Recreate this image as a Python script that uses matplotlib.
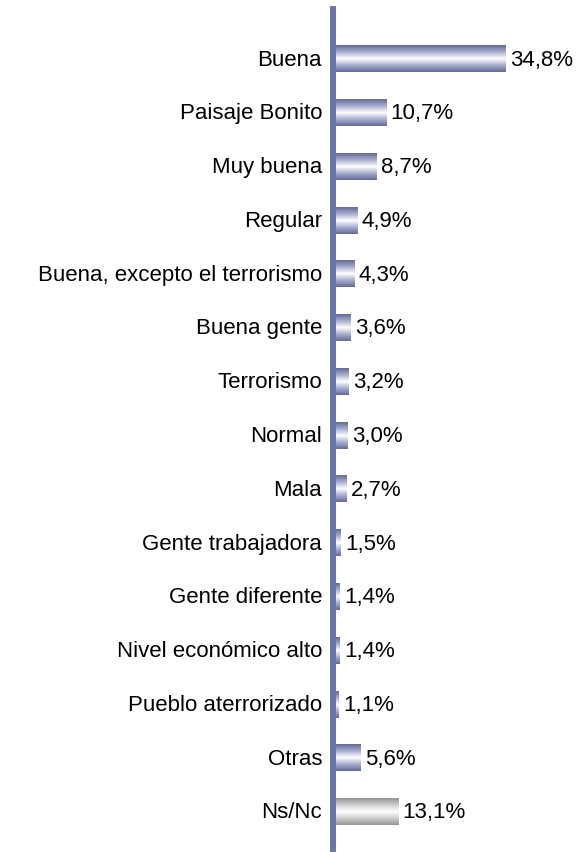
import numpy as np
import matplotlib.pyplot as plt
from matplotlib.colors import LinearSegmentedColormap

# -------------- DATA ---------------------------------------
categories = ["Buena", "Paisaje Bonito", "Muy buena", "Regular",
              "Buena, excepto el terrorismo", "Buena gente", "Terrorismo",
              "Normal", "Mala", "Gente trabajadora", "Gente diferente",
              "Nivel económico alto", "Pueblo aterrorizado", "Otras", "Ns/Nc"]
values = [34.8, 10.7, 8.7, 4.9, 4.3, 3.6, 3.2, 3.0, 2.7, 1.5, 1.4, 1.4, 1.1, 5.6, 13.1]
value_labels = ["34,8%", "10,7%", "8,7%", "4,9%", "4,3%", "3,6%", "3,2%",
                "3,0%", "2,7%", "1,5%", "1,4%", "1,4%", "1,1%", "5,6%", "13,1%"]
is_nsnc = [False] * 14 + [True]

# -------------- STYLE --------------------------------------
plt.rcParams["font.family"] = ["Liberation Sans", "DejaVu Sans"]
axis_color = "#6b76a8"
blue_grad = LinearSegmentedColormap.from_list(
    "blue_grad", ["#666b95", "#a9add0", "#ffffff", "#a9add0", "#666b95"])
gray_grad = LinearSegmentedColormap.from_list(
    "gray_grad", ["#959595", "#cfcfcf", "#ffffff", "#cfcfcf", "#959595"])
bar_h = 0.49
font_size = 16

fig = plt.figure(figsize=(5.78, 8.53), dpi=100)
ax = fig.add_axes([333 / 578, 3 / 853, 1 - 333 / 578, 840 / 853])

y_pos = np.arange(len(categories))
grad = np.linspace(0, 1, 64).reshape(-1, 1)

# gradient-filled bars
for y, v, gray in zip(y_pos, values, is_nsnc):
    ax.imshow(grad, cmap=gray_grad if gray else blue_grad, aspect="auto",
              extent=[0, v, y + bar_h / 2, y - bar_h / 2],
              interpolation="bilinear", zorder=2)

# value labels
for y, v, lab in zip(y_pos, values, value_labels):
    ax.text(v + 0.9, y, lab, va="center", ha="left", fontsize=font_size)

# category labels
for y, cat in zip(y_pos, categories):
    ax.text(-2.2, y, cat, va="center", ha="right", fontsize=font_size)

ax.set_xlim(0, 49.3)
ax.set_ylim(14.69, -0.93)

for side in ["top", "right", "bottom"]:
    ax.spines[side].set_visible(False)
ax.spines["left"].set_color(axis_color)
ax.spines["left"].set_linewidth(4.3)
ax.spines["left"].set_zorder(3)
ax.set_xticks([])
ax.set_yticks([])
ax.patch.set_visible(False)

fig.savefig("out.png", dpi=100)
